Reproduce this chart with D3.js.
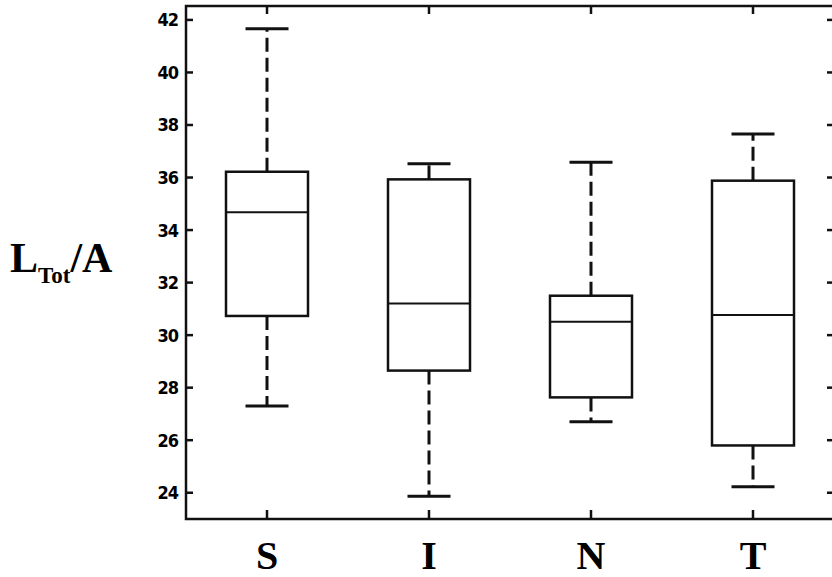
<!DOCTYPE html>
<html>
<head>
<meta charset="utf-8">
<script src="https://cdn.jsdelivr.net/npm/d3@7"></script>
<style>
  body { margin:0; background:#fff; }
  svg { display:block; }
</style>
</head>
<body>
<svg id="chart" width="832" height="577"></svg>
<script>
// groups and their box stats
var groups = ['S','I','N','T'];
var whiskLow  = [27.3, 23.87, 26.7, 24.23];
var q1        = [30.73, 28.65, 27.63, 25.8];
var medians   = [34.68, 31.2, 30.51, 30.77];
var q3        = [36.22, 35.93, 31.5, 35.88];
var whiskHigh = [41.66, 36.52, 36.58, 37.66];
var yTicks = [24,26,28,30,32,34,36,38,40,42];

var svg = d3.select('#chart');
var pl = 186, pr = 834, pt = 6, pb = 519;

var x = d3.scaleBand().domain(groups).range([pl, pr]).padding(0);
var y = d3.scaleLinear().domain([23.0, 42.53]).range([pb, pt]);

var boxes = groups.map(function(g,i){
  return {g:g, lo:whiskLow[i], q1:q1[i], med:medians[i], q3:q3[i], hi:whiskHigh[i]};
});

var boxW = 82, capW = 43;

// frame
svg.append('rect')
  .attr('x', pl).attr('y', pt)
  .attr('width', pr-pl).attr('height', pb-pt)
  .attr('fill','none').attr('stroke','#111').attr('stroke-width',2.5);

// y ticks inward on both sides
var ya = svg.append('g');
yTicks.forEach(function(t){
  ya.append('line').attr('x1',pl).attr('x2',pl+7)
    .attr('y1',y(t)).attr('y2',y(t)).attr('stroke','#111').attr('stroke-width',2.5);
  ya.append('line').attr('x1',pr).attr('x2',pr-7)
    .attr('y1',y(t)).attr('y2',y(t)).attr('stroke','#111').attr('stroke-width',2.5);
  ya.append('text').attr('x',178).attr('y',y(t)).attr('dy','0.36em')
    .attr('text-anchor','end')
    .style('font-family','"Liberation Sans Narrow", "DejaVu Sans Condensed", Arial, sans-serif')
    .style('font-weight','bold').style('font-size','18px').style('letter-spacing','-1px')
    .text(t);
});

// x ticks top and bottom
groups.forEach(function(g){
  var cx = x(g) + x.bandwidth()/2;
  svg.append('line').attr('x1',cx).attr('x2',cx).attr('y1',pt).attr('y2',pt+8)
    .attr('stroke','#111').attr('stroke-width',2.5);
  svg.append('line').attr('x1',cx).attr('x2',cx).attr('y1',pb).attr('y2',pb-9)
    .attr('stroke','#111').attr('stroke-width',2.5);
  svg.append('text').attr('x',cx).attr('y',569).attr('text-anchor','middle')
    .style('font-family','"Liberation Serif", "Times New Roman", serif')
    .style('font-weight','bold').style('font-size','40px').text(g);
});

var gb = svg.selectAll('g.box').data(boxes).enter().append('g').attr('class','box');

function cxOf(d){ return x(d.g) + x.bandwidth()/2; }

// whiskers
gb.append('line').attr('x1',cxOf).attr('x2',cxOf)
  .attr('y1',function(d){return y(d.q3);}).attr('y2',function(d){return y(d.hi);})
  .attr('stroke','#111').attr('stroke-width',3).attr('stroke-dasharray','14,6');
gb.append('line').attr('x1',cxOf).attr('x2',cxOf)
  .attr('y1',function(d){return y(d.q1);}).attr('y2',function(d){return y(d.lo);})
  .attr('stroke','#111').attr('stroke-width',3).attr('stroke-dasharray','14,6');

// caps
['hi','lo'].forEach(function(k){
  gb.append('line')
    .attr('x1',function(d){return cxOf(d)-capW/2;}).attr('x2',function(d){return cxOf(d)+capW/2;})
    .attr('y1',function(d){return y(d[k]);}).attr('y2',function(d){return y(d[k]);})
    .attr('stroke','#111').attr('stroke-width',3);
});

// box
gb.append('rect')
  .attr('x',function(d){return cxOf(d)-boxW/2;})
  .attr('y',function(d){return y(d.q3);})
  .attr('width',boxW)
  .attr('height',function(d){return y(d.q1)-y(d.q3);})
  .attr('fill','#fff').attr('stroke','#111').attr('stroke-width',2.5);

// median
gb.append('line')
  .attr('x1',function(d){return cxOf(d)-boxW/2;}).attr('x2',function(d){return cxOf(d)+boxW/2;})
  .attr('y1',function(d){return y(d.med);}).attr('y2',function(d){return y(d.med);})
  .attr('stroke','#111').attr('stroke-width',2);

// y label L_Tot/A
var lab = svg.append('text').attr('x',10).attr('y',272)
  .style('font-family','"Liberation Serif", "Times New Roman", serif')
  .style('font-weight','bold').style('font-size','42px');
lab.append('tspan').text('L');
lab.append('tspan').attr('dy',11).style('font-size','23px').text('Tot');
lab.append('tspan').attr('dy',-11).text('/A');
</script>
</body>
</html>
